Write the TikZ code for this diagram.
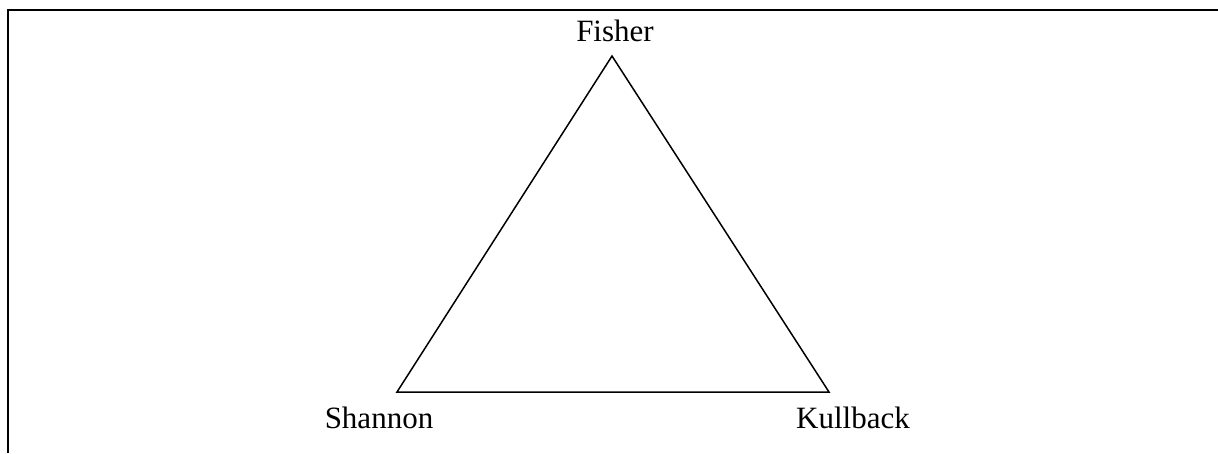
\documentclass[tikz,border=0pt]{standalone}
\usepackage{fontspec}
\setmainfont{Liberation Serif}
\begin{document}
\begin{tikzpicture}[x=1pt,y=-1pt,
  frameline/.style={line width=2.4pt},
  triline/.style={line width=1.5pt, line join=miter},
  lbl/.style={anchor=base, inner sep=0pt, font=\fontsize{31}{37}\selectfont}]
\useasboundingbox (0,0) rectangle (1218,453);
\coordinate (tl) at (8,10);
\coordinate (tr) at (1218,10);
\coordinate (bl) at (8,453);
\draw[frameline] (bl) -- (tl) -- (tr);
\coordinate (F) at (612,56);
\coordinate (S) at (397,392);
\coordinate (K) at (829,392);
\draw[triline] (F) -- (S) -- (K) -- cycle;
\node[lbl] (fisher) at (615,41) {Fisher};
\node[lbl] (shannon) at (379,428) {Shannon};
\node[lbl] (kullback) at (853,428) {Kullback};
\end{tikzpicture}
\end{document}
